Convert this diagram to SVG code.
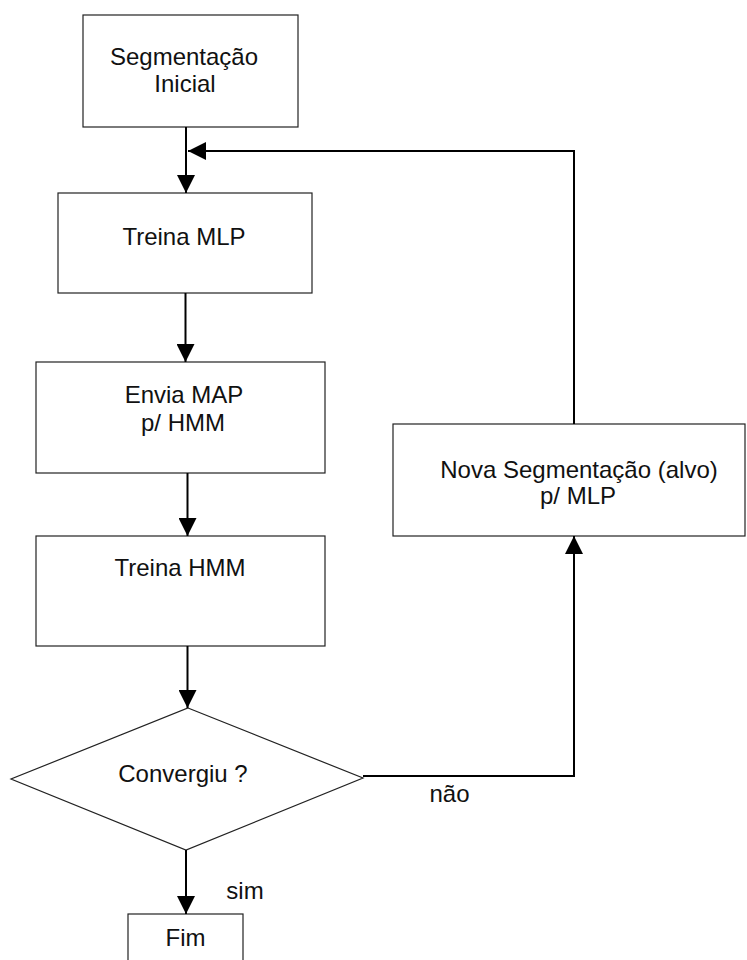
<svg xmlns="http://www.w3.org/2000/svg" width="747" height="960" viewBox="0 0 747 960">
  <style>
    .box { fill: #ffffff; stroke: #222222; stroke-width: 1.2; }
    .lbl { font-family: "Liberation Sans", Arial, sans-serif; font-size: 24px; fill: #111111; text-anchor: middle; }
    .edge { fill: none; stroke: #000000; stroke-width: 2; }
  </style>
  <defs>
    <marker id="arrow" markerUnits="userSpaceOnUse" markerWidth="18" markerHeight="18" viewBox="0 0 18 18" refX="18" refY="9" orient="auto">
      <path d="M0,0 L18,9 L0,18 Z" fill="#000000"/>
    </marker>
  </defs>
  <rect width="747" height="960" fill="#ffffff"/>

  <g id="seg-inicial">
    <rect class="box" x="83" y="15" width="215" height="112"/>
    <text class="lbl" x="184" y="65">Segmentação</text>
    <text class="lbl" x="185" y="92">Inicial</text>
  </g>

  <g id="treina-mlp">
    <rect class="box" x="58" y="193" width="254" height="100"/>
    <text class="lbl" x="184" y="245">Treina MLP</text>
  </g>

  <g id="envia-map">
    <rect class="box" x="36" y="362" width="289" height="111"/>
    <text class="lbl" x="184" y="403">Envia MAP</text>
    <text class="lbl" x="183" y="431">p/ HMM</text>
  </g>

  <g id="treina-hmm">
    <rect class="box" x="36" y="536" width="289" height="110"/>
    <text class="lbl" x="180" y="576">Treina HMM</text>
  </g>

  <g id="convergiu">
    <polygon class="box" points="188,708 363,778 186,850 11,779"/>
    <text class="lbl" x="183" y="782">Convergiu ?</text>
  </g>

  <g id="nova-seg">
    <rect class="box" x="393" y="424" width="352" height="112"/>
    <text class="lbl" x="579" y="478">Nova Segmentação (alvo)</text>
    <text class="lbl" x="578" y="504">p/ MLP</text>
  </g>

  <g id="fim">
    <rect class="box" x="128" y="914" width="115" height="60"/>
    <text class="lbl" x="185.5" y="946">Fim</text>
  </g>

  <g id="connectors">
    <line class="edge" x1="186" y1="127" x2="186" y2="193" marker-end="url(#arrow)"/>
    <line class="edge" x1="185.5" y1="293" x2="185.5" y2="362" marker-end="url(#arrow)"/>
    <line class="edge" x1="187.5" y1="473" x2="187.5" y2="536" marker-end="url(#arrow)"/>
    <line class="edge" x1="187.5" y1="646" x2="187.5" y2="708" marker-end="url(#arrow)"/>
    <line class="edge" x1="186" y1="850" x2="186" y2="914" marker-end="url(#arrow)"/>
    <polyline class="edge" points="363,776 574,776 574,536" marker-end="url(#arrow)"/>
    <polyline class="edge" points="574,424 574,151 188,151" marker-end="url(#arrow)"/>
    <text class="lbl" x="449.5" y="802">não</text>
    <text class="lbl" x="245" y="899">sim</text>
  </g>
</svg>
